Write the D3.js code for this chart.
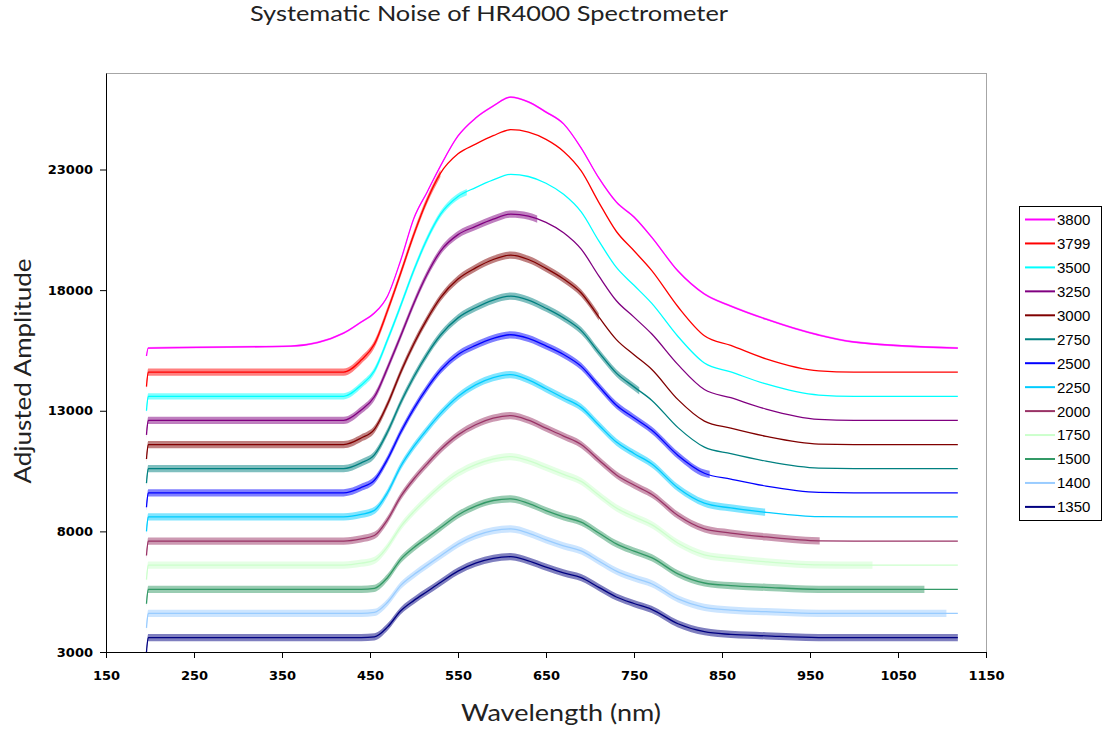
<!DOCTYPE html>
<html>
<head>
<meta charset="utf-8">
<script src="https://cdn.jsdelivr.net/npm/d3@7/dist/d3.min.js"></script>
<style>
  body { margin: 0; background: #fff; }
  svg { display: block; }
</style>
</head>
<body>
<div id="chart"></div>
<script>
var wavelengths = [196, 198, 360, 420, 440, 455, 470, 485, 500, 515, 530, 550, 570, 590, 610,
                   630, 650, 670, 690, 710, 730, 750, 770, 800, 830, 860, 900, 960, 1000, 1118];

var s3800 = [15270, 15600, 15680, 16220, 16680, 17050, 17760, 19250, 20990, 22070, 23140, 24390, 25130, 25630, 26000,
             25800, 25380, 24890, 23890, 22650, 21650, 21030, 20200, 18790, 17840, 17340, 16800, 16140, 15850, 15600];
var s3799 = [14000, 14600, 14600, 14600, 15100, 15760, 17160, 18720, 20330, 21740, 22840, 23650, 24050, 24400, 24650,
             24550, 24250, 23750, 22940, 21640, 20430, 19630, 18820, 17310, 16110, 15710, 15150, 14650, 14600, 14600];
var s3500 = [13000, 13600, 13600, 13600, 14060, 14660, 15950, 17370, 18840, 20130, 21140, 21880, 22250, 22570, 22800,
             22710, 22430, 21970, 21240, 20040, 18940, 18200, 17460, 16080, 14980, 14610, 14110, 13650, 13600, 13600];
var s3250 = [12000, 12600, 12600, 12600, 13030, 13580, 14780, 16110, 17470, 18670, 19610, 20300, 20640, 20940, 21150,
             21070, 20810, 20380, 19700, 18590, 17560, 16880, 16190, 14910, 13880, 13540, 13070, 12640, 12600, 12600];
var s3000 = [11000, 11600, 11600, 11600, 11870, 12230, 13280, 14610, 15790, 16810, 17680, 18460, 18920, 19270, 19450,
             19270, 18900, 18460, 17880, 16890, 15950, 15320, 14720, 13460, 12570, 12280, 11940, 11620, 11600, 11600];
var s2750 = [10000, 10600, 10600, 10600, 10840, 11170, 12130, 13350, 14420, 15350, 16130, 16850, 17270, 17590, 17750,
             17590, 17250, 16850, 16320, 15420, 14560, 13990, 13440, 12300, 11490, 11220, 10910, 10620, 10600, 10600];
var s2500 = [9000, 9600, 9600, 9600, 9820, 10120, 11000, 12120, 13100, 13950, 14670, 15330, 15710, 16000, 16150,
             16000, 15690, 15330, 14840, 14020, 13230, 12710, 12200, 11150, 10410, 10170, 9880, 9620, 9600, 9600];
var s2250 = [8000, 8600, 8600, 8600, 8700, 8870, 9610, 10700, 11530, 12230, 12880, 13590, 14070, 14370, 14500,
             14280, 13910, 13530, 13140, 12410, 11700, 11230, 10800, 9800, 9170, 8970, 8790, 8610, 8600, 8600];
var s2000 = [7000, 7600, 7600, 7600, 7690, 7830, 8490, 9450, 10180, 10800, 11380, 12000, 12420, 12690, 12800,
             12610, 12280, 11950, 11600, 10960, 10340, 9920, 9540, 8660, 8100, 7930, 7770, 7610, 7600, 7600];
var s1750 = [6000, 6600, 6600, 6600, 6680, 6800, 7370, 8200, 8830, 9370, 9870, 10410, 10770, 11000, 11100,
             10930, 10650, 10360, 10070, 9510, 8970, 8610, 8280, 7510, 7030, 6880, 6740, 6610, 6600, 6600];
var s1500 = [5000, 5600, 5600, 5600, 5600, 5640, 6090, 6840, 7330, 7740, 8150, 8680, 9050, 9280, 9350,
             9160, 8860, 8600, 8380, 7930, 7480, 7180, 6910, 6240, 5860, 5750, 5680, 5600, 5600, 5600];
var s1400 = [4000, 4600, 4600, 4600, 4600, 4640, 5060, 5760, 6210, 6600, 6980, 7470, 7820, 8030, 8100,
             7930, 7650, 7400, 7190, 6770, 6350, 6070, 5830, 5200, 4850, 4740, 4670, 4600, 4600, 4600];
var s1350 = [3000, 3600, 3600, 3600, 3600, 3630, 4040, 4710, 5140, 5510, 5880, 6350, 6680, 6880, 6950,
             6780, 6520, 6280, 6080, 5680, 5280, 5010, 4770, 4170, 3840, 3730, 3670, 3600, 3600, 3600];

var seriesNames  = ["3800", "3799", "3500", "3250", "3000", "2750", "2500", "2250", "2000", "1750", "1500", "1400", "1350"];
var seriesValues = [s3800, s3799, s3500, s3250, s3000, s2750, s2500, s2250, s2000, s1750, s1500, s1400, s1350];
var seriesColors = ["#ff00ff", "#ff0000", "#00ffff", "#800080", "#800000", "#008080", "#0000ff",
                    "#00ccff", "#993366", "#ccffcc", "#339966", "#99ccff", "#000080"];
// half height of the odd/even pixel noise, and the wavelength where it stops
var noiseAmp = [40, 150, 130, 150, 150, 150, 150, 150, 150, 150, 150, 150, 150];
var noiseEnd = [1118, 530, 560, 640, 710, 756, 836, 899, 961, 1021, 1080, 1105, 1118];

var xTicks = [150, 250, 350, 450, 550, 650, 750, 850, 950, 1050, 1150];
var yTicks = [3000, 8000, 13000, 18000, 23000];

var W = 1106, H = 731;
var svg = d3.select("#chart").append("svg")
  .attr("width", W)
  .attr("height", H);

svg.append("rect").attr("width", W).attr("height", H).attr("fill", "#fff");

var x = d3.scaleLinear().domain([150, 1150]).range([106, 986]);
var y = d3.scaleLinear().domain([3000, 27000]).range([652, 73]);

svg.append("defs").append("clipPath").attr("id", "plot")
  .append("rect")
  .attr("x", 106.5).attr("y", 73.5)
  .attr("width", 880).attr("height", 579);

// plot area border (gray top / right)
svg.append("rect")
  .attr("x", 106.5).attr("y", 73.5)
  .attr("width", 880).attr("height", 579)
  .attr("fill", "none")
  .attr("stroke", "#a6a6a6")
  .attr("stroke-width", 1);

var traces = svg.append("g").attr("clip-path", "url(#plot)");

var line = d3.line()
  .x(function(d) { return x(d.w); })
  .y(function(d) { return y(d.v); })
  .curve(d3.curveMonotoneX);

seriesValues.forEach(function(vals, i) {
  var pts = wavelengths.map(function(w, j) { return {w: w, v: vals[j]}; });
  var amp = noiseAmp[i], end = noiseEnd[i];

  var band = pts.filter(function(d) { return d.w <= end; });
  var last = band[band.length - 1];
  if (last.w < end) {
    var nxt = pts[band.length];
    var t = (end - last.w) / (nxt.w - last.w);
    band.push({w: end, v: last.v + t * (nxt.v - last.v)});
  }

  var area = d3.area()
    .x(function(d) { return x(d.w); })
    .y0(function(d) { return y(d.v - amp); })
    .y1(function(d) { return y(d.v + amp); })
    .curve(d3.curveMonotoneX);

  traces.append("path")
    .datum(band)
    .attr("d", area)
    .attr("fill", seriesColors[i])
    .attr("fill-opacity", 0.5);

  traces.append("path")
    .datum(pts)
    .attr("d", line)
    .attr("fill", "none")
    .attr("stroke", seriesColors[i])
    .attr("stroke-width", 1.3);
});

// axes
var xAxis = d3.axisBottom(x).tickValues(xTicks).tickFormat(d3.format("d"))
  .tickSize(6).tickSizeOuter(0).tickPadding(13);
var yAxis = d3.axisLeft(y).tickValues(yTicks).tickFormat(d3.format("d"))
  .tickSize(6).tickSizeOuter(0).tickPadding(7);

var gx = svg.append("g").attr("transform", "translate(0,652)").call(xAxis);
var gy = svg.append("g").attr("transform", "translate(106,0)").call(yAxis);

[gx, gy].forEach(function(g) {
  g.selectAll("path, line").attr("stroke", "#000");
  g.selectAll("text")
    .attr("fill", "#000")
    .style("font-family", "'DejaVu Sans', sans-serif")
    .style("font-weight", "bold")
    .style("font-size", "13px");
});

// titles
svg.append("text")
  .attr("x", 489).attr("y", 21)
  .attr("text-anchor", "middle")
  .attr("textLength", 478)
  .attr("lengthAdjust", "spacingAndGlyphs")
  .style("font-family", "Lato, sans-serif")
  .style("font-size", "22px")
  .attr("fill", "#222")
  .text("Systematic Noise of HR4000 Spectrometer");

svg.append("text")
  .attr("x", 561).attr("y", 721)
  .attr("text-anchor", "middle")
  .attr("textLength", 200)
  .attr("lengthAdjust", "spacingAndGlyphs")
  .style("font-family", "Lato, sans-serif")
  .style("font-size", "24px")
  .attr("fill", "#222")
  .text("Wavelength (nm)");

svg.append("text")
  .attr("transform", "translate(31,371) rotate(-90)")
  .attr("text-anchor", "middle")
  .attr("textLength", 225)
  .attr("lengthAdjust", "spacingAndGlyphs")
  .style("font-family", "Lato, sans-serif")
  .style("font-size", "24px")
  .attr("fill", "#222")
  .text("Adjusted Amplitude");

// legend
var legend = svg.append("g");
legend.append("rect")
  .attr("x", 1019.5).attr("y", 206.5)
  .attr("width", 82).attr("height", 314)
  .attr("fill", "#fff")
  .attr("stroke", "#000")
  .attr("stroke-width", 1);

var rows = legend.selectAll("g.row")
  .data(seriesNames)
  .enter().append("g")
  .attr("class", "row")
  .attr("transform", function(d, i) { return "translate(0," + (219.5 + i * 23.95) + ")"; });

rows.append("line")
  .attr("x1", 1025).attr("x2", 1055)
  .attr("stroke", function(d, i) { return seriesColors[i]; })
  .attr("stroke-width", 2);

rows.append("text")
  .attr("x", 1057).attr("dy", "0.36em")
  .style("font-family", "'Liberation Sans', Arial, sans-serif")
  .style("font-size", "15px")
  .attr("fill", "#000")
  .text(function(d) { return d; });
</script>
</body>
</html>
